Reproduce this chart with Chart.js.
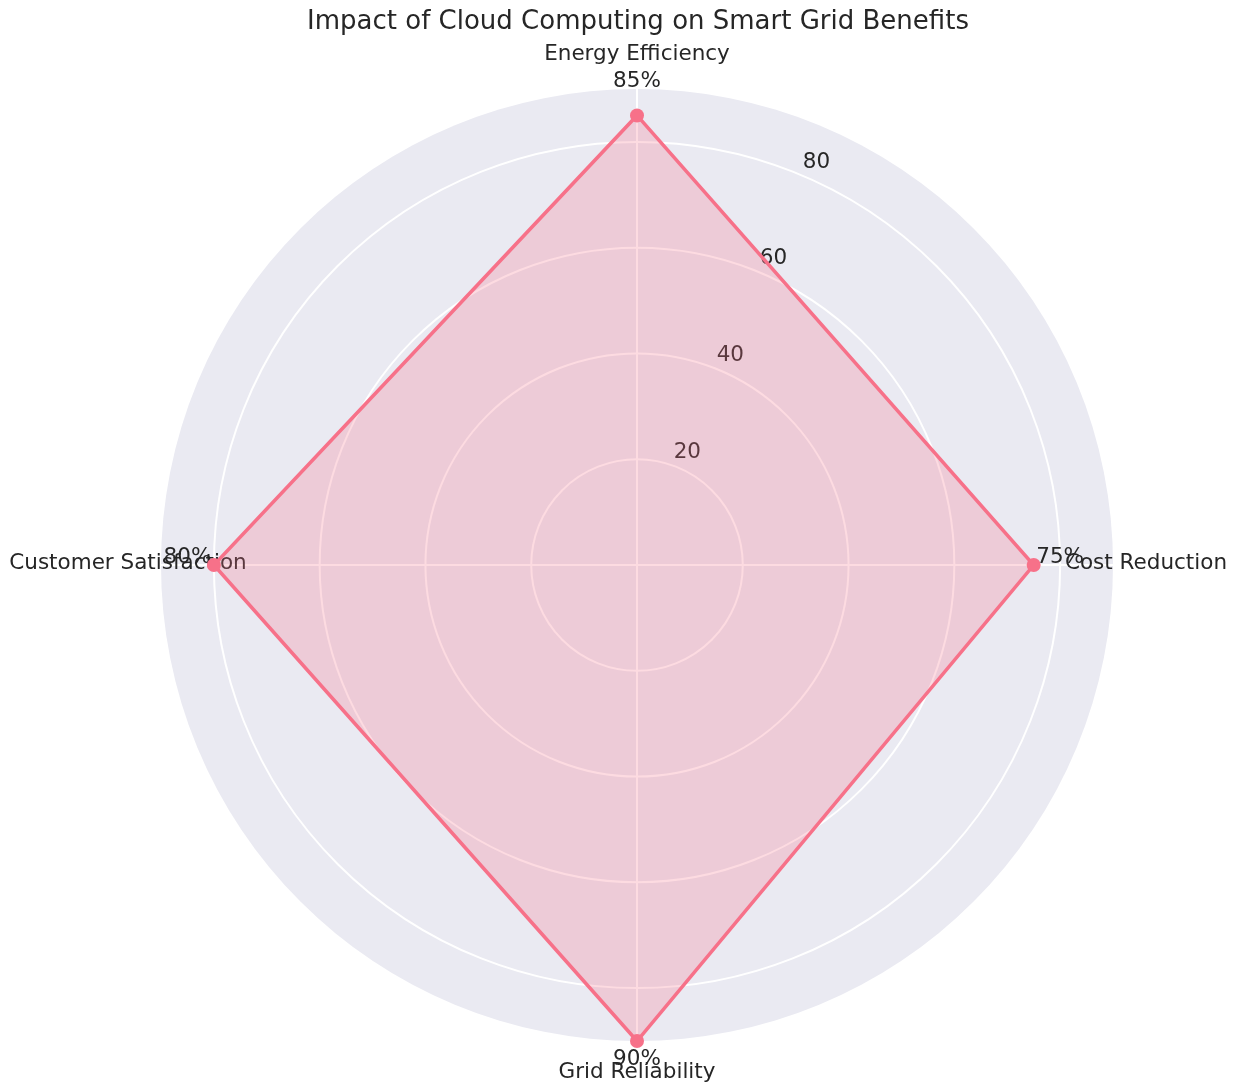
<!DOCTYPE html>
<html>
<head>
<meta charset="utf-8">
<script src="https://cdn.jsdelivr.net/npm/chart.js@4.4.0/dist/chart.umd.min.js"></script>
<style>
  body { margin: 0; background: #fff; }
  #wrap { width: 1237px; height: 1084px; }
</style>
</head>
<body>
<div id="wrap"><canvas id="myChart"></canvas></div>
<script>
const chartTitle = 'Impact of Cloud Computing on Smart Grid Benefits';
const categories = ['Energy Efficiency', 'Cost Reduction', 'Grid Reliability', 'Customer Satisfaction'];
const benefitValues = [85, 75, 90, 80];
const radialTicks = [0, 20, 40, 60, 80];
const radialMax = 90;

const clrLine = '#f77189';
const clrFill = 'rgba(247, 113, 137, 0.25)';
const clrPanel = '#eaeaf2';
const clrText = '#262626';
const font = '"DejaVu Sans", sans-serif';

// all the text goes under the dataset, like in the original
const textPlugin = {
	id: 'texts',
	beforeDatasetsDraw(chart) {
		const ctx = chart.ctx;
		const r = chart.scales.r;
		ctx.save();
		ctx.fillStyle = clrText;
		ctx.textAlign = 'center';

		// title
		ctx.font = '26px ' + font;
		ctx.textBaseline = 'middle';
		ctx.fillText(chartTitle, 638, 22);

		// radial tick labels at 22.5 degrees
		ctx.font = '21.5px ' + font;
		const a = 24 * Math.PI / 180;
		radialTicks.forEach(v => {
			if (v === 0) return;
			const d = r.getDistanceFromCenterForValue(v) + 18;
			ctx.fillText(String(v), r.xCenter + d * Math.sin(a), r.yCenter - d * Math.cos(a));
		});

		// category labels
		categories.forEach((c, i) => {
			const p = r.getPointPosition(i, r.drawingArea + 33);
			ctx.fillText(c, p.x, p.y - 2);
		});

		// value labels
		ctx.textBaseline = 'bottom';
		benefitValues.forEach((v, i) => {
			const p = r.getPointPositionForValue(i, v + 5);
			ctx.fillText(v + '%', p.x, p.y + 3);
		});
		ctx.restore();
	}
};

let chart = new Chart('myChart', {
	type: 'radar',
	data: {
		labels: categories,
		datasets: [{
			label: 'Benefits',
			data: benefitValues,
			borderColor: clrLine,
			backgroundColor: clrFill,
			borderWidth: 3.5,
			fill: true,
			pointRadius: 7,
			pointBackgroundColor: clrLine,
			pointBorderColor: clrLine,
			pointBorderWidth: 0
		}]
	},
	options: {
		responsive: true,
		maintainAspectRatio: false,
		animation: false,
		layout: {
			padding: { left: 161, right: 124, top: 89, bottom: 43 }
		},
		scales: {
			r: {
				min: 0,
				max: radialMax,
				backgroundColor: clrPanel,
				afterBuildTicks(scale) {
					scale.ticks = radialTicks.map(v => ({ value: v }));
				},
				grid: {
					circular: true,
					color: '#ffffff',
					lineWidth: 2
				},
				angleLines: {
					color: '#ffffff',
					lineWidth: 2
				},
				ticks: { display: false },
				pointLabels: { display: false }
			}
		},
		plugins: {
			legend: { display: false },
			title: { display: false },
			tooltip: { enabled: false }
		}
	},
	plugins: [textPlugin]
});
</script>
</body>
</html>
